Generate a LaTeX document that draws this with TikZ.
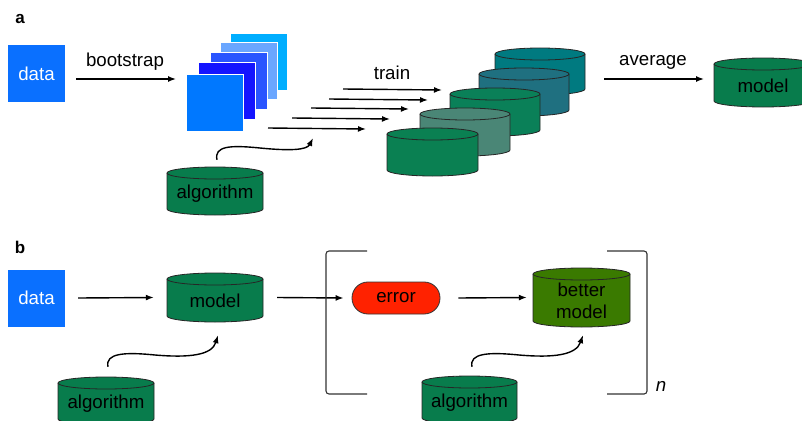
\documentclass[tikz,border=0pt]{standalone}
\usepackage{fontspec}
\setmainfont{Liberation Sans}
\usetikzlibrary{arrows.meta}
\definecolor{datablue}{RGB}{10,112,255}
\definecolor{sqA}{RGB}{0,120,255}
\definecolor{sqB}{RGB}{20,20,255}
\definecolor{sqC}{RGB}{42,85,255}
\definecolor{sqD}{RGB}{106,166,255}
\definecolor{sqE}{RGB}{0,174,255}
\definecolor{cylgreen}{RGB}{8,124,76}
\definecolor{cylA}{RGB}{10,128,82}
\definecolor{cylB}{RGB}{74,134,118}
\definecolor{cylC}{RGB}{10,128,88}
\definecolor{cylD}{RGB}{31,112,128}
\definecolor{cylE}{RGB}{0,122,128}
\definecolor{bettergreen}{RGB}{58,122,0}
\definecolor{errred}{RGB}{255,34,0}
\newcommand\drawcyl[7]{%
  \pgfmathsetmacro\cylrx{(#3-#2)/2}%
  \pgfmathsetmacro\cylw{#3-#2}%
  \pgfmathsetmacro\cylh{#5-#4}%
  \filldraw[fill=#6,draw=black!85,line width=0.8pt] (#2,#4+6) -- (#2,#5-6)
    arc[start angle=180,end angle=360,x radius=\cylrx pt,y radius=6pt] -- (#3,#4+6)
    arc[start angle=0,end angle=180,x radius=\cylrx pt,y radius=6pt] -- cycle;
  \draw[black!85,line width=0.8pt] (#2,#4+6)
    arc[start angle=180,end angle=360,x radius=\cylrx pt,y radius=6pt];
  \node[inner sep=0pt,minimum width=\cylw pt,minimum height=\cylh pt]
    (#1) at ({(#2+#3)/2},{(#4+#5)/2}) {};%
  \node[txt,align=center,inner sep=0pt] (#1text) at ({(#2+#3)/2},{(#4+#5)/2+3}) {#7};%
}
\tikzset{
  txt/.style={font=\fontsize{18.7}{22}\selectfont,text=black},
  databox/.style={fill=datablue,minimum width=57pt,minimum height=57pt,inner sep=0pt,
     font=\fontsize{18.7}{22}\selectfont,text=white},
  sq/.style={draw=white,line width=0.6pt,minimum width=57pt,minimum height=57pt,inner sep=0pt},
  arr/.style={line width=1.4pt,-{Latex[length=8pt,width=6pt]}},
  brack/.style={line width=1.1pt,draw=black!80,rounded corners=3pt},
  panel/.style={font=\fontsize{17}{20}\selectfont\bfseries}
}
\begin{document}
\begin{tikzpicture}[x=1pt,y=-1pt]
\clip (0,0) rectangle (802,420);
\fill[white] (0,0) rectangle (802,420);
% ---------- panel a ----------
\node[panel] (la) at (20,19) {a};
\node[databox] (dataA) at (36.5,73.5) {data};
\node[txt] (lboot) at (125,62) {bootstrap};
\coordinate (bs1) at (76,79);
\coordinate (bs2) at (176,79);
\draw[arr] (bs1) -- (bs2);
\node[sq,fill=sqE] (s5) at (259,61.5) {};
\node[sq,fill=sqD] (s4) at (249,70.5) {};
\node[sq,fill=sqC] (s3) at (238.5,80.5) {};
\node[sq,fill=sqB] (s2) at (226.5,90.5) {};
\node[sq,fill=sqA] (s1) at (214.5,102.5) {};
\node[txt] (ltrain) at (392,73) {train};
\coordinate (t1a) at (343,89);  \coordinate (t1b) at (442,90);
\coordinate (t2a) at (329,99);  \coordinate (t2b) at (428,100);
\coordinate (t3a) at (311,108); \coordinate (t3b) at (409,109);
\coordinate (t4a) at (292,118); \coordinate (t4b) at (390,119);
\coordinate (t5a) at (268,128); \coordinate (t5b) at (366,129);
\foreach \i in {1,...,5} {\draw[arr] (t\i a) -- (t\i b);}
\drawcyl{algA}{167}{263}{167}{215}{cylgreen}{algorithm}
\coordinate (algAend) at (313,138);
\draw[arr] ([xshift=2pt,yshift=7pt]algA.north) .. controls (214,146) and (230,145) .. (260,148)
  .. controls (290,151) and (307,150) .. (algAend);
\drawcyl{cE}{495}{585}{48}{95}{cylE}{}
\drawcyl{cD}{479}{569}{68}{116}{cylD}{}
\drawcyl{cC}{450}{540}{88}{136}{cylC}{}
\drawcyl{cB}{420}{510}{108}{156}{cylB}{}
\drawcyl{cA}{387}{478}{128}{176}{cylA}{}
\node[txt] (lavg) at (653,62) {average};
\coordinate (av1) at (604,79);
\draw[arr] (av1) -- (704,79);
\drawcyl{modelA}{714}{812}{58}{107}{cylgreen}{model}
% ---------- panel b ----------
\node[panel] (lb) at (20,247) {b};
\node[databox] (dataB) at (36.5,298) {data};
\drawcyl{modelB}{167}{263}{273}{322}{cylgreen}{model}
\draw[arr] ([xshift=13pt]dataB.east) -- ([xshift=-13pt]modelB.west);
\node[txt,fill=errred,draw=black!80,line width=0.8pt,minimum width=88pt,minimum height=32pt,
  rounded corners=15.9pt,inner sep=0pt] (err) at (396,298) {error};
\draw[arr] ([xshift=14pt]modelB.east) -- ([xshift=-8pt]err.west);
\drawcyl{better}{533}{630}{268}{327}{bettergreen}{better\\model}
\draw[arr] ([xshift=18pt]err.east) -- ([xshift=-6pt]better.west);
\drawcyl{algB}{58}{154}{377}{425}{cylgreen}{algorithm}
\draw[arr] ([xshift=2pt,yshift=10pt]algB.north) .. controls (105,353) and (125,352) .. (155,355)
  .. controls (190,358) and (212,355) .. ([xshift=3pt,yshift=-13pt]modelB.south);
\drawcyl{algC}{422}{517}{376}{424}{cylgreen}{algorithm}
\draw[arr] ([xshift=2.5pt,yshift=9pt]algC.north) .. controls (469,353) and (489,352) .. (519,355)
  .. controls (554,358) and (576,355) .. ([xshift=1.5pt,yshift=-8pt]better.south);
\coordinate (bl1) at (367,251); \coordinate (bl2) at (367,394);
\draw[brack] (bl1) -- (326,251) -- (326,394) -- (bl2);
\coordinate (br1) at (607,251); \coordinate (br2) at (607,394);
\draw[brack] (br1) -- (647,251) -- (647,394) -- (br2);
\node[txt,font=\fontsize{18.7}{22}\selectfont\itshape] (nn) at (661,386) {n};
\end{tikzpicture}
\end{document}
